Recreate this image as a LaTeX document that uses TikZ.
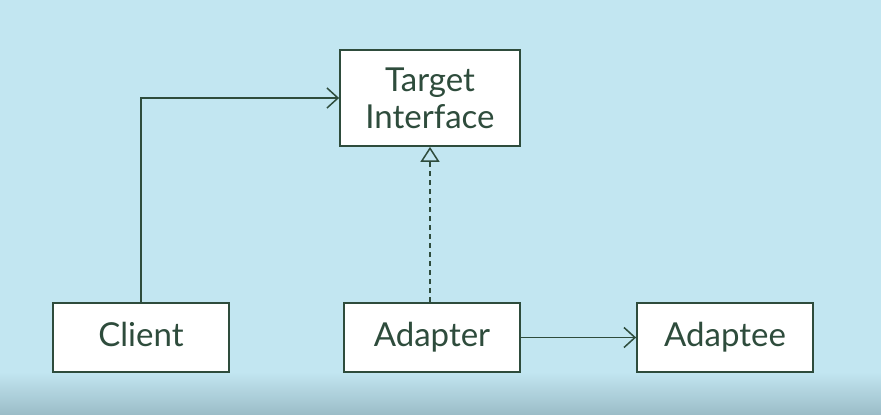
\documentclass[tikz,border=0pt]{standalone}
\usepackage{fontspec}
\setmainfont{Lato}
\usetikzlibrary{arrows.meta}
\definecolor{bgmid}{HTML}{C2E6F1}
\definecolor{bgedge}{HTML}{A9CAD3}
\definecolor{bgbot}{HTML}{9BBCC7}
\definecolor{ink}{HTML}{2E4C3C}
\pgfdeclareradialshading{vignette}{\pgfpoint{0bp}{0bp}}{color(0bp)=(bgmid); color(40bp)=(bgmid); color(72bp)=(bgedge)}
\tikzset{
  box/.style={draw=ink, line width=1.8pt, fill=white, minimum width=176pt, minimum height=69pt,
    inner sep=0pt, text=ink, font=\fontsize{33}{37}\selectfont, align=center},
  conn/.style={draw=ink, line width=1.5pt},
  openarrow/.style={-{Straight Barb[length=11pt,width=20pt,line width=1.5pt]}},
  realize/.style={dashed, dash pattern=on 5pt off 4pt, -{Triangle[open,length=15pt,width=19pt,line width=1.5pt]}}
}
\begin{document}
\begin{tikzpicture}[x=1pt,y=-1pt]
\useasboundingbox (0,0) rectangle (881,415);
\shade[shading=vignette] (0,0) rectangle (881,415);
\shade[top color=bgmid, bottom color=bgbot] (0,372) rectangle (881,415);
\node[box, minimum width=180pt, minimum height=96pt] (target) at (430,98) {Target\\Interface};
\node[box] (client) at (141,337.5) {Client\vphantom{p}};
\node[box] (adapter) at (432,337.5) {Adapter};
\node[box] (adaptee) at (725,337.5) {Adaptee};
\draw[conn, openarrow] (client.north) |- (target.west);
\draw[conn, realize] (adapter.north -| target.south) -- (target.south);
\draw[conn, openarrow] (adapter.east) -- (adaptee.west);
\end{tikzpicture}
\end{document}
